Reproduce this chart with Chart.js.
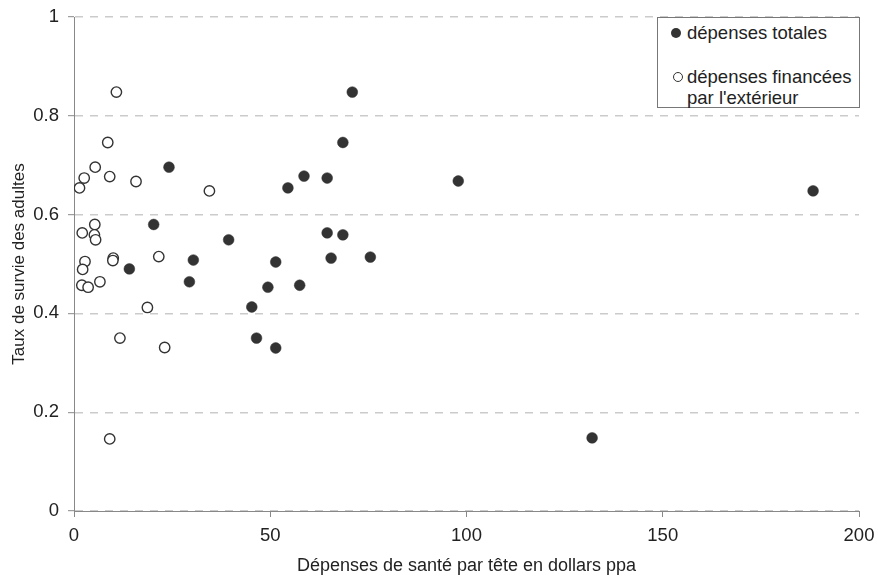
<!DOCTYPE html>
<html lang="fr">
<head>
    <meta charset="UTF-8">
    <title>Taux de survie des adultes</title>
    <script src="https://cdn.jsdelivr.net/npm/chart.js"></script>
    <style>
        html, body { margin: 0; padding: 0; background: #fff; }
        body { font-family: 'Liberation Sans', Arial, sans-serif; }
        #wrap { position: relative; width: 878px; height: 580px; }
        #legend {
            position: absolute; left: 657px; top: 17px; width: 203px; height: 91px;
            border: 1px solid #777; background: #fff; font-size: 18.5px; color: #222;
            box-sizing: border-box;
        }
        .item { position: absolute; left: 29px; line-height: 21px; white-space: nowrap; }
        .dot { position: absolute; width: 10px; height: 10px; border-radius: 50%; box-sizing: border-box; }
        .filled { background: #333; }
        .open { border: 1.3px solid #333; background: #fff; }
    </style>
</head>
<body>
<div id="wrap">
    <canvas id="chart" width="878" height="580"></canvas>
    <div id="legend">
        <span class="dot filled" style="left:13px; top:10px"></span>
        <div class="item" style="top:4px">dépenses totales</div>
        <span class="dot open" style="left:15px; top:54px"></span>
        <div class="item" style="top:48px">dépenses financées<br>par l'extérieur</div>
    </div>
</div>
<script>
    // dépenses totales (x = dollars ppa, y = taux de survie)
    const totalX = [24.2, 20.3, 14.1, 30.4, 29.4, 39.4, 45.3, 46.5, 49.4, 51.4, 51.4, 54.5, 58.6, 57.5, 64.5, 64.5, 65.5, 68.5, 68.5, 70.9, 75.5, 97.9, 132.0, 188.3];
    const totalY = [0.696, 0.580, 0.490, 0.508, 0.464, 0.549, 0.413, 0.350, 0.453, 0.504, 0.330, 0.654, 0.678, 0.457, 0.674, 0.563, 0.512, 0.746, 0.559, 0.848, 0.514, 0.668, 0.148, 0.648];

    // dépenses financées par l'extérieur
    const extX = [10.8, 8.6, 5.4, 2.6, 9.1, 1.4, 15.8, 34.5, 5.3, 2.1, 5.2, 5.5, 2.8, 2.2, 10.0, 9.9, 21.6, 2.0, 3.6, 6.6, 18.7, 11.7, 23.1, 9.1];
    const extY = [0.848, 0.746, 0.696, 0.674, 0.677, 0.654, 0.667, 0.648, 0.580, 0.563, 0.559, 0.549, 0.505, 0.489, 0.512, 0.507, 0.515, 0.457, 0.453, 0.464, 0.412, 0.350, 0.331, 0.146];

    const xTicks = [0, 50, 100, 150, 200];
    const yTicks = [0, 0.2, 0.4, 0.6, 0.8, 1];

    const toPoints = (xs, ys) => xs.map((x, i) => ({ x: x, y: ys[i] }));

    Chart.defaults.font.family = "'Liberation Sans', Arial, sans-serif";
    Chart.defaults.font.size = 18;
    Chart.defaults.color = '#222';

    new Chart(document.getElementById('chart'), {
        type: 'scatter',
        data: {
            datasets: [
                {
                    label: 'dépenses financées par l\'extérieur',
                    data: toPoints(extX, extY),
                    pointRadius: 5.2,
                    pointBackgroundColor: '#fff',
                    pointBorderColor: '#333',
                    pointBorderWidth: 1.4
                },
                {
                    label: 'dépenses totales',
                    data: toPoints(totalX, totalY),
                    pointRadius: 5.4,
                    pointBackgroundColor: '#333',
                    pointBorderColor: '#333',
                    pointBorderWidth: 0.5
                }
            ]
        },
        options: {
            responsive: false,
            animation: false,
            layout: { padding: { top: 17, right: 19, left: 0, bottom: 0 } },
            plugins: { legend: { display: false }, tooltip: { enabled: false } },
            scales: {
                x: {
                    type: 'linear',
                    min: 0, max: 200,
                    afterBuildTicks: s => { s.ticks = xTicks.map(v => ({ value: v })); },
                    afterFit: s => { s.height = 69; s.paddingLeft = 0; s.paddingRight = 0; },
                    grid: { drawOnChartArea: false, tickLength: 6, tickColor: '#888' },
                    border: { color: '#888', width: 1 },
                    ticks: { padding: 8, color: '#222', font: { size: 18.5 } },
                    title: { display: true, text: 'Dépenses de santé par tête en dollars ppa', padding: { top: 0, bottom: 3 }, color: '#222', font: { size: 18 } }
                },
                y: {
                    type: 'linear',
                    min: 0, max: 1,
                    afterBuildTicks: s => { s.ticks = yTicks.map(v => ({ value: v })); },
                    afterFit: s => { s.width = 74; s.paddingTop = 0; s.paddingBottom = 0; },
                    grid: {
                        color: '#cbcbcb', lineWidth: 1.4,
                        tickLength: 6, tickColor: '#888', tickWidth: 1, tickBorderDash: []
                    },
                    border: { color: '#888', width: 1, dash: [8, 7] },
                    ticks: { padding: 9, color: '#222', font: { size: 18.5 }, callback: v => String(v) },
                    title: { display: true, text: 'Taux de survie des adultes', padding: { top: 9, bottom: 0 }, color: '#222', font: { size: 17 } }
                }
            }
        }
    });
</script>
</body>
</html>
